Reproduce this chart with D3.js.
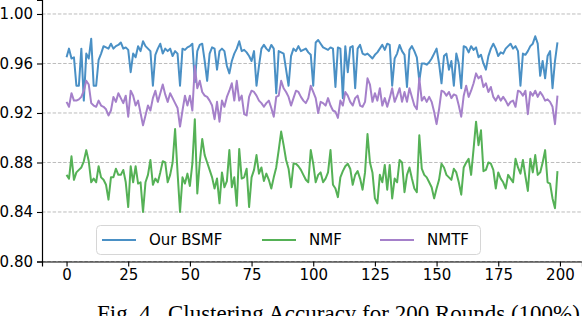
<!DOCTYPE html>
<html>
<head>
<meta charset="utf-8">
<script src="https://cdn.jsdelivr.net/npm/d3@7"></script>
<style>
  body { margin: 0; background: #fff; }
  svg { display: block; }
</style>
</head>
<body>
<div id="chart"></div>
<script>
const yTicks = [0.80, 0.84, 0.88, 0.92, 0.96, 1.00];
const xTicks = [0, 25, 50, 75, 100, 125, 150, 175, 200];
const seriesNames = ["Our BSMF", "NMF", "NMTF"];
const seriesColors = ["#4a90c5", "#55b156", "#a580ca"];

// accuracy per round (rounds 0..199)
const bsmf = [
  0.965, 0.972, 0.964, 0.965, 0.942, 0.942, 0.972, 0.930, 0.968, 0.964,
  0.980, 0.942, 0.942, 0.963, 0.968, 0.974, 0.973, 0.972, 0.976, 0.972,
  0.974, 0.975, 0.977, 0.972, 0.973, 0.971, 0.953, 0.968, 0.965, 0.974,
  0.970, 0.978, 0.974, 0.972, 0.970, 0.942, 0.967, 0.972, 0.976, 0.968,
  0.972, 0.970, 0.972, 0.966, 0.970, 0.968, 0.942, 0.972, 0.971, 0.973,
  0.974, 0.976, 0.945, 0.970, 0.975, 0.976, 0.962, 0.946, 0.968, 0.973,
  0.972, 0.955, 0.970, 0.972, 0.970, 0.958, 0.952, 0.962, 0.968, 0.972,
  0.978, 0.970, 0.971, 0.969, 0.966, 0.962, 0.970, 0.942, 0.958, 0.972,
  0.975, 0.972, 0.970, 0.975, 0.972, 0.936, 0.970, 0.969, 0.968, 0.955,
  0.942, 0.966, 0.972, 0.970, 0.974, 0.970, 0.971, 0.972, 0.969, 0.967,
  0.942, 0.977, 0.979, 0.976, 0.973, 0.972, 0.971, 0.973, 0.972, 0.941,
  0.973, 0.972, 0.932, 0.974, 0.953, 0.973, 0.974, 0.940, 0.972, 0.975,
  0.968, 0.967, 0.968, 0.966, 0.964, 0.967, 0.969, 0.972, 0.975, 0.971,
  0.976, 0.975, 0.942, 0.964, 0.968, 0.975, 0.970, 0.967, 0.941, 0.971,
  0.974, 0.970, 0.965, 0.946, 0.960, 0.960, 0.959, 0.961, 0.964, 0.968,
  0.972, 0.960, 0.944, 0.966, 0.968, 0.955, 0.962, 0.942, 0.968, 0.960,
  0.940, 0.974, 0.973, 0.969, 0.974, 0.971, 0.973, 0.965, 0.967, 0.960,
  0.955, 0.966, 0.972, 0.976, 0.972, 0.966, 0.969, 0.968, 0.972, 0.974,
  0.976, 0.972, 0.974, 0.970, 0.942, 0.968, 0.967, 0.970, 0.974, 0.976,
  0.982, 0.976, 0.950, 0.962, 0.948, 0.966, 0.970, 0.940, 0.962, 0.977
];

const nmf = [
  0.870, 0.867, 0.885, 0.866, 0.872, 0.874, 0.876, 0.881, 0.890, 0.881,
  0.864, 0.867, 0.864, 0.877, 0.868, 0.866, 0.862, 0.850, 0.868, 0.868,
  0.875, 0.870, 0.870, 0.874, 0.864, 0.844, 0.877, 0.864, 0.877, 0.863,
  0.864, 0.840, 0.864, 0.870, 0.882, 0.862, 0.867, 0.864, 0.872, 0.881,
  0.880, 0.864, 0.870, 0.880, 0.907, 0.872, 0.840, 0.868, 0.863, 0.871,
  0.861, 0.879, 0.915, 0.855, 0.880, 0.899, 0.886, 0.880, 0.874, 0.868,
  0.859, 0.867, 0.847, 0.872, 0.860, 0.865, 0.890, 0.860, 0.868, 0.845,
  0.891, 0.867, 0.868, 0.875, 0.844, 0.868, 0.874, 0.886, 0.871, 0.876,
  0.865, 0.871, 0.866, 0.859, 0.868, 0.876, 0.890, 0.905, 0.894, 0.882,
  0.875, 0.860, 0.879, 0.879, 0.877, 0.874, 0.870, 0.866, 0.864, 0.890,
  0.879, 0.864, 0.870, 0.872, 0.864, 0.867, 0.872, 0.890, 0.862, 0.859,
  0.852, 0.868, 0.873, 0.877, 0.879, 0.875, 0.862, 0.870, 0.873, 0.867,
  0.858, 0.872, 0.903, 0.880, 0.872, 0.851, 0.847, 0.870, 0.864, 0.878,
  0.858, 0.878, 0.851, 0.867, 0.864, 0.882, 0.880, 0.856, 0.870, 0.876,
  0.867, 0.859, 0.856, 0.902, 0.875, 0.870, 0.868, 0.864, 0.860, 0.851,
  0.859, 0.866, 0.879, 0.876, 0.870, 0.868, 0.866, 0.875, 0.872, 0.864,
  0.854, 0.876, 0.880, 0.883, 0.870, 0.891, 0.913, 0.894, 0.906, 0.873,
  0.874, 0.880, 0.879, 0.874, 0.859, 0.872, 0.867, 0.864, 0.859, 0.870,
  0.867, 0.864, 0.883, 0.876, 0.871, 0.882, 0.869, 0.857, 0.883, 0.872,
  0.886, 0.870, 0.872, 0.880, 0.890, 0.864, 0.863, 0.851, 0.843, 0.873
];

const nmtf = [
  0.929, 0.925, 0.936, 0.930, 0.930, 0.931, 0.933, 0.938, 0.946, 0.943,
  0.928, 0.926, 0.925, 0.930, 0.926, 0.925, 0.923, 0.918, 0.922, 0.933,
  0.929, 0.936, 0.932, 0.928, 0.934, 0.917, 0.938, 0.934, 0.926, 0.930,
  0.920, 0.910, 0.918, 0.926, 0.922, 0.932, 0.938, 0.929, 0.936, 0.943,
  0.935, 0.929, 0.936, 0.932, 0.928, 0.924, 0.909, 0.922, 0.934, 0.926,
  0.934, 0.922, 0.958, 0.940, 0.946, 0.937, 0.934, 0.933, 0.930, 0.926,
  0.915, 0.929, 0.913, 0.930, 0.925, 0.933, 0.938, 0.944, 0.930, 0.946,
  0.930, 0.934, 0.919, 0.918, 0.933, 0.938, 0.937, 0.934, 0.930, 0.928,
  0.925, 0.928, 0.930, 0.924, 0.917, 0.933, 0.934, 0.946, 0.940, 0.937,
  0.933, 0.926, 0.932, 0.938, 0.937, 0.933, 0.930, 0.928, 0.932, 0.942,
  0.937, 0.932, 0.920, 0.929, 0.928, 0.926, 0.932, 0.926, 0.922, 0.921,
  0.916, 0.930, 0.926, 0.937, 0.934, 0.929, 0.926, 0.932, 0.934, 0.926,
  0.925, 0.929, 0.948, 0.943, 0.929, 0.936, 0.930, 0.940, 0.926, 0.932,
  0.925, 0.932, 0.940, 0.929, 0.934, 0.940, 0.929, 0.937, 0.929, 0.940,
  0.933, 0.926, 0.923, 0.948, 0.930, 0.933, 0.929, 0.933, 0.929, 0.921,
  0.911, 0.923, 0.938, 0.937, 0.934, 0.937, 0.932, 0.935, 0.934, 0.926,
  0.917, 0.934, 0.942, 0.933, 0.938, 0.944, 0.952, 0.948, 0.950, 0.941,
  0.944, 0.937, 0.941, 0.933, 0.930, 0.934, 0.930, 0.933, 0.930, 0.926,
  0.929, 0.930, 0.925, 0.938, 0.937, 0.934, 0.938, 0.919, 0.937, 0.934,
  0.938, 0.933, 0.937, 0.934, 0.930, 0.931, 0.929, 0.925, 0.911, 0.934
];

const width = 582;
const height = 316;
const left = 42;
const bottom = 261.5;

const svg = d3.select("#chart")
  .append("svg")
  .attr("width", width)
  .attr("height", height)
  .style("font-family", "'DejaVu Sans', sans-serif");

const x = d3.scaleLinear().domain([-9.95, 208.95]).range([left, 582]);
const y = d3.scaleLinear().domain([0.80, 1.0113]).range([bottom, 0]);

// grid
svg.append("g")
  .selectAll("line")
  .data(yTicks)
  .join("line")
  .attr("x1", left)
  .attr("x2", width)
  .attr("y1", d => y(d))
  .attr("y2", d => y(d))
  .attr("stroke", "#b4b4b4")
  .attr("stroke-width", 0.9)
  .attr("stroke-dasharray", "3.5,1.8");

// lines
const seriesData = [bsmf, nmf, nmtf];
const line = d3.line()
  .x((d, i) => x(i))
  .y(d => y(d));

svg.append("g")
  .selectAll("path")
  .data(seriesData)
  .join("path")
  .attr("fill", "none")
  .attr("stroke", (d, i) => seriesColors[i])
  .attr("stroke-width", 2)
  .attr("stroke-linejoin", "round")
  .attr("d", line);

// axes
const yAxis = svg.append("g")
  .attr("transform", `translate(${left},0)`)
  .call(d3.axisLeft(y).tickValues(yTicks).tickFormat(d3.format(".2f")).tickSizeOuter(0).tickSize(5).tickPadding(4));

const xAxis = svg.append("g")
  .attr("transform", `translate(0,${bottom})`)
  .call(d3.axisBottom(x).tickValues(xTicks).tickFormat(d3.format("d")).tickSizeOuter(0).tickSize(5).tickPadding(3));

[yAxis, xAxis].forEach(a => {
  a.selectAll(".domain").attr("stroke", "#000").attr("stroke-width", 1.2);
  a.selectAll(".tick line").attr("stroke", "#000").attr("stroke-width", 1.1);
  a.selectAll(".tick text")
    .attr("fill", "#000")
    .style("font-size", "15px")
    .style("font-family", "'DejaVu Sans', sans-serif");
});

// legend
const legend = svg.append("g");
legend.append("rect")
  .attr("x", 96.5)
  .attr("y", 225.5)
  .attr("width", 384)
  .attr("height", 29)
  .attr("rx", 4)
  .attr("fill", "#fff")
  .attr("fill-opacity", 0.8)
  .attr("stroke", "#d6d6d6");

const legendX = [102, 262, 380];
const item = legend.selectAll(".item")
  .data(seriesNames)
  .join("g")
  .attr("class", "item")
  .attr("transform", (d, i) => `translate(${legendX[i]},240)`);

item.append("line")
  .attr("x1", 0)
  .attr("x2", 34)
  .attr("stroke", (d, i) => seriesColors[i])
  .attr("stroke-width", 2);

item.append("text")
  .attr("x", 47)
  .attr("dy", "0.35em")
  .style("font-size", "15px")
  .text(d => d);

// caption
svg.append("text")
  .attr("x", 97)
  .attr("y", 321)
  .style("font-family", "'Liberation Serif', 'Times New Roman', serif")
  .style("font-size", "23px")
  .attr("xml:space", "preserve")
  .text("Fig. 4.  Clustering Accuracy for 200 Rounds (100%)");
</script>
</body>
</html>
